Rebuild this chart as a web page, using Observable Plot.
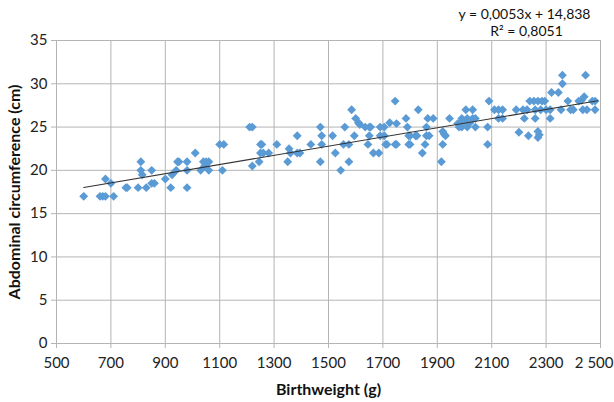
<!DOCTYPE html>
<html><head><meta charset="utf-8">
<script src="https://cdn.jsdelivr.net/npm/d3@7"></script>
<script src="https://cdn.jsdelivr.net/npm/@observablehq/plot@0.6"></script>
<style>
html,body{margin:0;padding:0;background:#fff;}
</style>
</head><body><div id="chart"></div>
<script>
// Birthweight (g)
const birthweight = [600,660,670,680,680,700,710,755,760,800,810,810,815,830,850,850,860,900,920,925,940,945,950,980,980,980,
1010,1040,1050,1060,1030,1060,1045,1100,1115,1110,1210,1220,1220,1250,1255,1250,1260,1280,1245,1310,1355,1360,1350,1385,1395,1385,1435,1470,1475,1475,1470,
1515,1525,1545,1560,1555,1575,1575,1585,1595,1600,1610,1615,1635,1650,1655,1650,1645,1665,1685,1690,1705,1690,1705,1710,1715,1725,1745,1750,1745,1750,
1785,1790,1795,1800,1820,1825,1795,1800,1830,1845,1855,1865,1885,1860,1860,1870,1915,1920,1925,1930,1920,1945,1975,1985,1990,2000,2010,2020,2030,2040,
1980,1990,2010,2040,2005,2030,2085,2085,2090,2110,2125,2140,2125,2140,2190,2215,2230,2200,2220,2235,2240,2255,2270,2285,2295,2260,2280,2300,2315,2260,
2270,2275,2270,2315,2320,2345,2355,2390,2400,2360,2360,2380,2420,2430,2440,2435,2450,2445,2470,2480,2480];
// Abdominal circumference (cm)
const abdominal = [17,17,17,17,19,18.5,17,18,18,18,21,20,19.5,18,20,18.5,18.5,19,18,19.5,20,21,21,21,20,18,
22,21,21,21,20,20,20.5,23,23,20,25,25,20.5,23,23,22,22,22,21,23,22.5,22,21,22,22,24,23,25,24,23,21,
24,22,20,25,23,23,21,27,24,26,25.5,25.3,25,25,25,24,23,22,22,25,25,24,24,23,23,25.5,28,25.4,23,23,
26,25,24,24,24,24,23,23,27,22,23,26,26,25,24,24,21,24.5,24.2,24,23,26,25.4,25.5,26,25.7,26,25.5,26,26,
25,25,25,25,27,27,25,23,28,27,27,27,26,26,27,27,27,24.4,26,24,28,28,28,28,28,27,27,27,27,26,
24.5,24.1,23.8,26,29,29,27,27,27,30,31,28,28,28.1,28.5,27,27,31,28,28,27];

const xTicks = [500,700,900,1100,1300,1500,1700,1900,2100,2300,2500];
const yTicks = [0,5,10,15,20,25,30,35];
const xTickLabels = ["500","700","900","1100","1300","1500","1700","1900","2100","2300","2 500"];

// Trend line y = 0,0053x + 14,838 (endpoints)
const trendX = [600, 2490];
const trendY = [18.02, 28.04];

const equationLine1 = ["y = 0,0053x + 14,838"];
const equationLine2 = ["R\u00B2 = 0,8051"];
const xLabel = ["Birthweight (g)"];
const yLabel = ["Abdominal circumference (cm)"];

const points = birthweight.map((x, i) => ({x, y: abdominal[i]}));
const trend = trendX.map((x, i) => ({x, y: trendY[i]}));
const innerTicks = xTicks.slice(0, -1);
const lastTick = xTicks.slice(-1);

const gridColor = "#b4b4b4";
const font = "Lato, 'Open Sans', sans-serif";

const chart = Plot.plot({
  width: 614,
  height: 402,
  marginLeft: 56,
  marginRight: 14,
  marginTop: 40,
  marginBottom: 59,
  style: {fontFamily: font, fontSize: "15px", color: "#222", background: "#fff", overflow: "visible"},
  x: {domain: [500, 2500]},
  y: {domain: [0, 35]},
  marks: [
    Plot.gridX(xTicks, {stroke: gridColor, strokeOpacity: 1, strokeWidth: 1}),
    Plot.gridY(yTicks, {stroke: gridColor, strokeOpacity: 1, strokeWidth: 1}),
    Plot.axisX(xTicks, {tickSize: 5, tickPadding: 5, stroke: gridColor, text: null, label: null}),
    Plot.axisX(innerTicks, {tickSize: 0, tickPadding: 14, tickFormat: d => xTickLabels[xTicks.indexOf(d)], label: null, fontSize: 15, fill: "#222"}),
    Plot.text(lastTick, {x: d => d, frameAnchor: "bottom", text: d => xTickLabels[xTicks.indexOf(d)], textAnchor: "end", lineAnchor: "top", dx: 13, dy: 14, fontSize: 15, fill: "#222"}),
    Plot.axisY(yTicks, {tickSize: 5, tickPadding: 4, stroke: gridColor, label: null, fontSize: 15, fill: "#222"}),
    Plot.dot(points, {x: "x", y: "y", symbol: "diamond2", r: 4, fill: "#5b9bd5", stroke: "none"}),
    Plot.line(trend, {x: "x", y: "y", stroke: "#333", strokeWidth: 1.1}),
    Plot.text(equationLine1, {text: d => d, frameAnchor: "top", dx: 196, dy: -31, fontSize: 14, fill: "#111"}),
    Plot.text(equationLine2, {text: d => d, frameAnchor: "top", dx: 198, dy: -14, fontSize: 14, fill: "#111"}),
    Plot.text(xLabel, {text: d => d, frameAnchor: "bottom", dy: 51, fontSize: 16, fontWeight: "bold", fill: "#111"}),
    Plot.text(yLabel, {text: d => d, frameAnchor: "left", textAnchor: "middle", dx: -42, rotate: -90, fontSize: 16, fontWeight: "bold", fill: "#111"})
  ]
});
document.getElementById("chart").appendChild(chart);
</script>
</body></html>
